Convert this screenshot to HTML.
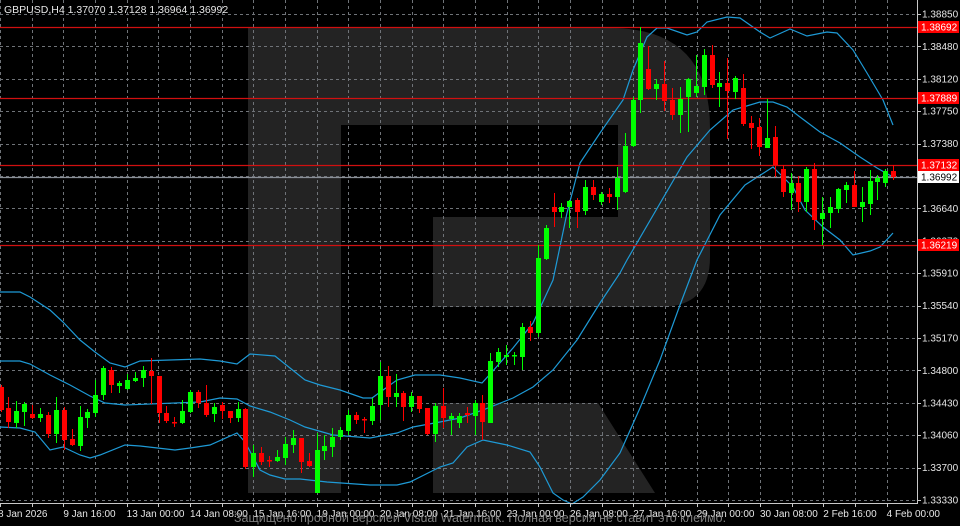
<!DOCTYPE html>
<html><head><meta charset="utf-8"><style>
html,body{margin:0;padding:0;background:#000;width:960px;height:526px;overflow:hidden}
svg{display:block}
text{font-family:"Liberation Sans",sans-serif}
</style></head><body>
<svg id="s" width="960" height="526" xmlns="http://www.w3.org/2000/svg">
<rect width="960" height="526" fill="#000"/>
<g fill="#232323">
<path d="M248,28 H610 Q710,28 710,128 V257 Q710,307 660,307 H433 V217 H618 V125 H341 V493 H248 Z"/>
<path d="M433,403 H598 L655,493 H433 Z"/>
</g>
<g id="grid" stroke="#6f7378" stroke-width="1" stroke-dasharray="3,3"></g>
<g id="bands" fill="none" stroke="#1e9ad6" stroke-width="1.2"></g>
<g id="lines"></g>
<g id="candles"></g>
<g id="axis"></g>
<text x="4" y="13" fill="#e8e8e8" font-size="10.5">GBPUSD,H4  1.37070 1.37128 1.36964 1.36992</text>
<text x="480" y="522" fill="#8a8a8a" font-size="12.5" text-anchor="middle" opacity="0.9">Защищено пробной версией Visual Watermark. Полная версия не ставит это клеймо.</text>
</svg>
<script>
var NS="http://www.w3.org/2000/svg";
function el(p,t,a,txt){var e=document.createElementNS(NS,t);for(var k in a)e.setAttribute(k,a[k]);if(txt!=null)e.textContent=txt;document.getElementById(p).appendChild(e);return e;}
// grid
for(var k=0;k<=28;k++){var x=Math.round(31.67*k)+0.5;el("grid","line",{x1:x,y1:0,x2:x,y2:503});}
for(var k=0;k<=15;k++){var y=Math.round(14+32.4*k)+0.5;el("grid","line",{x1:0,y1:y,x2:917,y2:y});}
// bands
var up=[[0,292],[20,292],[30,297],[50,310],[63,322],[80,340],[95,352],[110,363],[125,367],[140,361],[200,359],[220,361],[237,364],[250,354],[275,356],[290,368],[305,380],[320,385],[340,390],[363,398],[372,398],[397,380],[415,375],[440,375],[460,378],[482,383],[492,372],[513,348],[533,323],[553,280],[567,213],[580,163],[600,133],[623,100],[633,70],[647,37],[657,28],[667,28],[687,35],[697,32],[707,22],[727,17],[740,18],[760,32],[770,38],[790,29],[807,36],[827,32],[837,33],[853,50],[867,73],[883,100],[893,125]];
var mid=[[0,361],[20,361],[30,364],[50,375],[70,385],[90,396],[105,403],[125,405],[200,402],[220,398],[237,399],[250,406],[270,412],[290,420],[305,427],[333,435],[370,438],[397,433],[413,427],[440,422],[460,418],[483,410],[513,398],[533,387],[553,370],[577,340],[600,303],[620,273],[627,260],[687,157],[710,130],[733,110],[760,102],[773,102],[787,107],[800,117],[820,132],[840,143],[860,157],[877,168],[893,177]];
var lo=[[0,427],[20,428],[35,432],[50,450],[63,447],[80,455],[90,458],[100,455],[125,445],[140,446],[175,450],[190,448],[210,445],[237,433],[245,442],[260,470],[270,475],[285,479],[300,479],[327,482],[370,485],[397,485],[410,482],[440,467],[453,463],[467,447],[483,440],[507,445],[530,452],[540,467],[553,493],[563,500],[572,504],[583,497],[600,480],[620,453],[640,408],[660,360],[680,305],[697,260],[720,215],[745,185],[773,167],[793,187],[805,210],[823,227],[840,240],[853,255],[870,251],[880,247],[893,233]];
[up,mid,lo].forEach(function(b){el("bands","polyline",{points:b.map(function(p){return p.join(",")}).join(" ")});});
// horizontal levels
[[27,"#d01010"],[98,"#d01010"],[165,"#d01010"],[245,"#d01010"]].forEach(function(l){el("lines","line",{x1:0,x2:917,y1:l[0]+0.5,y2:l[0]+0.5,stroke:l[1],"stroke-width":1.2});});
el("lines","line",{x1:0,x2:917,y1:177.5,y2:177.5,stroke:"#8a9098","stroke-width":1.2});
// candles [open, close, high, low] in px
var C=[[387,410,385,412],[408,422,397,428],[423,411,401,428],[412,404,402,426],[414,418,405,419],[418,414,408,422],[415,434,412,438],[434,410,397,443],[410,440,407,450],[439,445,429,446],
[446,417,406,451],[418,412,409,428],[413,395,380,417],[395,368,366,400],[370,385,367,393],[386,383,381,393],[389,380,374,390],[381,378,372,382],[378,370,366,387],[371,376,358,404],
[376,413,376,423],[413,421,406,423],[422,423,417,427],[423,411,400,424],[412,392,390,413],[392,403,390,408],[403,415,385,417],[414,407,403,422],[405,411,402,419],[411,418,411,423],
[418,409,402,422],[409,467,408,469],[467,453,445,477],[453,462,447,465],[460,461,456,467],[461,457,450,462],[458,444,437,465],[445,438,430,453],[438,462,438,473],[461,466,453,467],
[493,450,433,493],[451,446,435,460],[447,437,428,457],[437,430,427,440],[431,415,410,435],[415,420,412,424],[419,420,417,433],[421,406,398,425],[405,376,362,420],[376,397,366,407],
[397,393,374,407],[393,407,391,421],[407,396,392,412],[396,409,399,413],[408,434,408,435],[434,406,403,442],[406,418,388,428],[419,416,413,435],[423,416,413,428],[413,415,407,423],
[416,403,400,435],[403,422,395,440],[423,361,353,423],[362,352,348,367],[357,355,345,365],[356,355,352,365],[357,327,323,370],[327,333,321,341],[333,258,245,337],[259,228,225,260],
[207,212,193,227],[212,207,203,218],[207,201,200,228],[200,212,198,228],[211,187,180,215],[187,195,180,200],[202,194,192,205],[194,197,188,203],[197,178,167,210],[192,146,133,193],
[146,100,97,147],[100,43,27,113],[69,89,46,90],[89,84,79,100],[84,101,61,111],[100,115,88,120],[115,99,87,133],[97,79,78,132],[93,86,55,97],[87,55,49,95],
[55,85,45,88],[87,83,72,107],[83,91,58,139],[92,78,76,99],[88,124,74,126],[123,128,116,149],[127,147,118,156],[148,138,99,148],[137,165,126,177],[169,192,165,197],
[193,183,173,210],[183,202,176,212],[202,169,167,212],[169,220,163,230],[219,213,197,245],[213,207,197,228],[209,189,188,213],[190,185,182,203],[185,207,171,207],[207,202,187,222],
[204,181,170,215],[182,178,175,200],[183,171,169,187],[171,177,165,180]];
C.forEach(function(c,i){
 var x=0.5+7.9*i, o=c[0],cl=c[1],h=c[2],l=c[3];
 var bull=cl<o, col=bull?"#00ff00":"#ff0000";
 var top=Math.min(o,cl), bot=Math.max(o,cl); if(bot-top<1.5)bot=top+1.5;
 var xc=Math.round(x)+0.5;
 el("candles","line",{x1:xc,x2:xc,y1:h,y2:l,stroke:col,"stroke-width":1});
 el("candles","rect",{x:Math.round(x)-2,y:top,width:5,height:bot-top,fill:col});
});
// axis
el("axis","line",{x1:917.5,y1:0,x2:917.5,y2:503,stroke:"#c8c8c8","stroke-width":1});
el("axis","line",{x1:0,y1:503.5,x2:918,y2:503.5,stroke:"#c8c8c8","stroke-width":1});
var pl=["1.38850","1.38480","1.38120","1.37750","1.37380","1.37010","1.36640","1.36270","1.35910","1.35540","1.35170","1.34800","1.34430","1.34060","1.33700","1.33330"];
pl.forEach(function(t,k){var y=14+32.4*k;if(k==5)return;el("axis","line",{x1:917,x2:921,y1:Math.round(y)+0.5,y2:Math.round(y)+0.5,stroke:"#c8c8c8"});el("axis","text",{x:922,y:y+3.5,fill:"#e6e6e6","font-size":"10"},t);});
[[27,"1.38692"],[98,"1.37889"],[165,"1.37132"],[245,"1.36219"]].forEach(function(r){el("axis","rect",{x:918,y:r[0]-6,width:41,height:12,fill:"#ff0000"});el("axis","text",{x:921,y:r[0]+3.5,fill:"#ffffff","font-size":"10"},r[1]);});
el("axis","rect",{x:918,y:171,width:41,height:12,fill:"#ffffff"});
el("axis","text",{x:921,y:180.5,fill:"#000","font-size":"10"},"1.36992");
var dl=["8 Jan 2026","9 Jan 16:00","13 Jan 00:00","14 Jan 08:00","15 Jan 16:00","19 Jan 00:00","20 Jan 08:00","21 Jan 16:00","23 Jan 00:00","26 Jan 08:00","27 Jan 16:00","29 Jan 00:00","30 Jan 08:00","2 Feb 16:00","4 Feb 00:00"];
for(var k=0;k<=28;k++){var x=Math.round(31.67*k)+0.5;el("axis","line",{x1:x,x2:x,y1:503,y2:507,stroke:"#c8c8c8"});}
dl.forEach(function(t,k){var x=63.33*k;el("axis","text",{x:k==0?-2:x,y:517,fill:"#e6e6e6","font-size":"10"},t);});
</script>
</body></html>
